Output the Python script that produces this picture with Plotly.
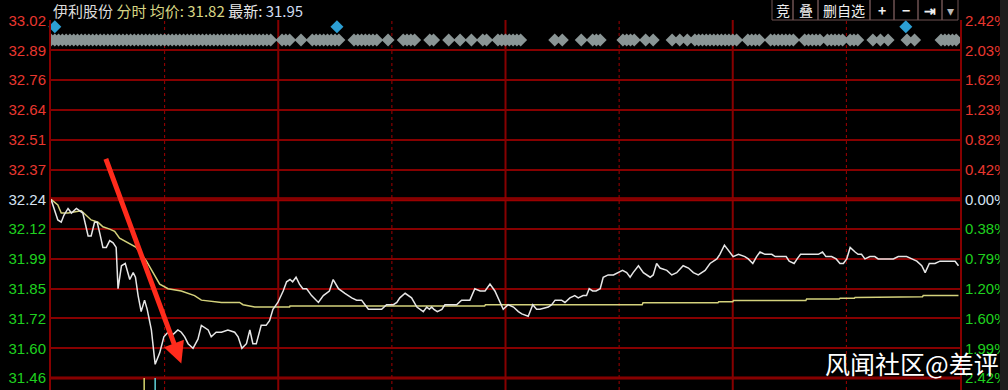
import plotly.graph_objects as go

# ---------------- data ----------------
prev_close = 32.24
price_step = 0.13
price_tick_text = ["33.02", "32.89", "32.76", "32.64", "32.51", "32.37", "32.24",
                   "32.12", "31.99", "31.85", "31.72", "31.60", "31.46"]
pct_tick_text = ["2.42%", "2.03%", "1.62%", "1.23%", "0.82%", "0.42%", "0.00%",
                 "0.38%", "0.79%", "1.20%", "1.60%", "1.99%", "2.42%"]

price_minutes = [0, 1.8, 2.7, 3.4, 4.5, 5.4, 6.7, 7.6, 8.4, 9.8, 10.6, 11.5, 12.2, 12.9, 13.7, 14.6, 15.5,
                 16.4, 17.2, 17.7, 18.6, 19.6, 20.8, 21.7, 22.3, 23.0, 23.8, 24.7, 25.4, 26.5, 27.5, 28.7,
                 29.8, 30.9, 32.2, 33.5, 34.4, 35.3, 36.2, 37.5, 38.8, 39.7, 40.6, 41.5, 42.3, 43.6, 45.0,
                 46.7, 48.5, 49.4, 50.4, 51.6, 52.5, 53.3, 54.2, 55.5, 56.8, 57.7, 58.6, 59.9, 61.3, 62.2,
                 63.1, 63.8, 64.7, 65.6, 66.5, 67.5, 68.8, 70.6, 71.9, 73.5, 74.5, 75.9, 77.6, 79.4, 80.7,
                 82.0, 82.9, 83.8, 85.1, 87.3, 88.6, 90.4, 91.3, 92.1, 93.5, 95.2, 96.6, 97.4, 98.3, 99.2,
                 99.9, 100.5, 101.1, 102.0, 103.2, 104.0, 105.3, 107.1, 108.4, 109.8, 110.6, 111.9, 113.3,
                 114.6, 115.9, 117.2, 118.5, 119.4, 120.7, 122.1, 123.4, 124.3, 126.0, 127.2, 128.2, 129.1,
                 131.3, 132.2, 133.1, 134.8, 135.7, 137.0, 138.3, 139.2, 140.5, 141.4, 142.1, 143.0, 143.9,
                 145.0, 145.8, 147.1, 148.5, 149.8, 150.9, 152.0, 152.9, 153.7, 155.1, 156.4, 158.2, 159.0,
                 159.9, 160.8, 162.6, 163.9, 165.2, 166.9, 168.3, 169.6, 170.9, 172.7, 174.0, 175.8, 176.6,
                 177.8, 178.8, 180.1, 181.5, 183.2, 184.1, 185.3, 186.3, 187.2, 188.5, 189.4, 190.3, 191.2,
                 192.0, 192.9, 194.1, 194.9, 196.2, 197.0, 197.9, 199.1, 200.4, 201.3, 202.6, 203.7, 204.6,
                 206.1, 207.3, 208.3, 209.2, 210.1, 211.0, 212.3, 213.1, 214.0, 214.9, 216.2, 217.5, 218.4,
                 219.7, 221.1, 222.4, 223.7, 225.0, 225.9, 227.3, 228.6, 229.9, 230.8, 231.9, 233.4, 234.7,
                 236.0, 236.9, 238.7, 239.6]
price_values = [32.24, 32.15, 32.14, 32.17, 32.20, 32.18, 32.20, 32.19, 32.18, 32.08, 32.08, 32.14, 32.14,
                32.09, 32.03, 32.03, 32.06, 32.05, 32.03, 31.85, 31.95, 31.96, 31.89, 31.92, 31.90, 31.82,
                31.75, 31.80, 31.76, 31.67, 31.52, 31.57, 31.64, 31.66, 31.65, 31.67, 31.66, 31.64, 31.61,
                31.59, 31.63, 31.69, 31.68, 31.67, 31.64, 31.66, 31.66, 31.67, 31.66, 31.64, 31.59, 31.61,
                31.67, 31.61, 31.61, 31.69, 31.69, 31.71, 31.76, 31.79, 31.84, 31.88, 31.89, 31.88, 31.90,
                31.87, 31.85, 31.85, 31.82, 31.79, 31.82, 31.84, 31.89, 31.85, 31.83, 31.81, 31.80, 31.80,
                31.78, 31.76, 31.76, 31.76, 31.78, 31.78, 31.79, 31.81, 31.83, 31.81, 31.77, 31.76, 31.75,
                31.77, 31.76, 31.77, 31.76, 31.75, 31.76, 31.78, 31.78, 31.78, 31.80, 31.80, 31.80, 31.85,
                31.84, 31.84, 31.87, 31.84, 31.79, 31.76, 31.78, 31.77, 31.75, 31.74, 31.73, 31.78, 31.76,
                31.76, 31.77, 31.78, 31.80, 31.80, 31.79, 31.81, 31.82, 31.81, 31.82, 31.82, 31.85, 31.84,
                31.84, 31.85, 31.90, 31.91, 31.91, 31.92, 31.93, 31.92, 31.90, 31.92, 31.95, 31.92, 31.90,
                31.91, 31.96, 31.94, 31.93, 31.91, 31.92, 31.95, 31.94, 31.92, 31.91, 31.93, 31.96, 31.98,
                32.00, 32.04, 32.02, 31.99, 32.00, 31.99, 31.98, 31.96, 31.99, 32.01, 32.00, 32.00, 32.00,
                31.99, 31.99, 31.99, 31.99, 31.97, 31.96, 31.98, 32.00, 32.00, 32.00, 32.00, 32.00, 32.01,
                31.99, 31.99, 31.98, 31.96, 31.96, 31.98, 32.03, 32.01, 32.00, 32.00, 31.98, 31.99, 31.99,
                31.98, 31.98, 31.98, 31.98, 31.99, 31.99, 31.99, 31.98, 31.97, 31.95, 31.92, 31.96, 31.96,
                31.97, 31.97, 31.97, 31.97, 31.95]

avg_minutes = [0, 1.8, 2.7, 4.5, 8.0, 9.3, 10.6, 12.4, 13.7, 15.5, 16.8, 18.1, 20.3, 22.5, 25.2, 26.9,
               28.7, 30.9, 34.4, 37.9, 39.7, 45.0, 49.8, 50.7, 53.8, 63.0, 63.1, 114.5, 114.7, 156.1,
               156.3, 176.1, 176.3, 180.0, 180.2, 199.3, 199.5, 208.1, 208.3, 212.1, 212.3, 230.1,
               230.3, 239.6]
avg_values = [32.24, 32.215, 32.18, 32.18, 32.19, 32.17, 32.15, 32.14, 32.12, 32.11, 32.10, 32.07, 32.05,
              32.03, 31.97, 31.92, 31.87, 31.85, 31.84, 31.82, 31.80, 31.79, 31.79, 31.78, 31.77, 31.77,
              31.775, 31.775, 31.780, 31.780, 31.789, 31.789, 31.793, 31.793, 31.798, 31.798, 31.805,
              31.805, 31.808, 31.808, 31.812, 31.815, 31.82, 31.82]

flag_ranges = [(0, 58), (61, 63), (66, 66), (69, 76), (80, 86), (89, 89), (93, 96), (100, 101),
               (105, 105), (108, 108), (111, 111), (114, 115), (118, 124), (133, 133), (135, 135),
               (140, 140), (143, 145), (151, 154), (157, 157), (159, 159), (164, 164), (166, 166),
               (168, 168), (170, 181), (184, 187), (190, 196), (199, 203), (205, 209), (211, 213),
               (217, 217), (219, 219), (221, 221), (226, 226), (228, 228), (235, 239)]
flag_level = 32.935
alert_minutes = [1, 75.5, 225.7]
alert_level = 32.993
tick_mark_minutes = [24.6, 27.5]
tick_mark_colors = ["#d6d66e", "#5fd3da"]
session_minutes = [60, 120, 180]
half_hour_minutes = [30, 90, 150, 210]
stock_name = "伊利股份"
avg_latest = "31.82"
last_price = "31.95"
buttons = ["竞", "叠", "删自选", "+", "−", "⇥", "▾"]
button_edges = [772, 793, 818, 870, 894, 918, 942, 958]

# ---------------- layout geometry ----------------
W, H = 1008, 390
L, R, T, B = 51, 48, 20, 0
PW, PH = W - L - R, H - T - B
y_top = 33.0223
y_bot = 31.408


def px_x(px):
    return (px - L) / PW


def px_y(py):
    return (H - B - py) / PH


n_ticks = len(price_tick_text)
tick_vals = [prev_close + (n_ticks // 2 - i) * price_step for i in range(n_ticks)]

RED_T = "#e8372f"
GRN_T = "#1fd01f"
BASE_T = "#d5e2f2"


def colored(texts):
    out = []
    for i, t in enumerate(texts):
        c = RED_T if i < n_ticks // 2 else (BASE_T if i == n_ticks // 2 else GRN_T)
        out.append(f"<span style='color:{c}'>{t}</span>")
    return out


flag_x = [m for a, b in flag_ranges for m in range(a, b + 1)]

fig = go.Figure()

# tick marks at bottom (volume-like flags)
for m, c in zip(tick_mark_minutes, tick_mark_colors):
    fig.add_trace(go.Scatter(x=[m, m], y=[tick_vals[-1], y_bot], mode="lines",
                             line=dict(color=c, width=1.5), hoverinfo="skip", showlegend=False))

fig.add_trace(go.Scatter(x=avg_minutes, y=avg_values, mode="lines",
                         line=dict(color="#d4d27c", width=1.5), hoverinfo="skip", showlegend=False))
fig.add_trace(go.Scatter(x=price_minutes, y=price_values, mode="lines",
                         line=dict(color="#e6e6e6", width=1.5), hoverinfo="skip", showlegend=False))
fig.add_trace(go.Scatter(x=flag_x, y=[flag_level] * len(flag_x), mode="markers",
                         marker=dict(symbol="diamond", size=10, color="#8a9595", line=dict(width=0)),
                         hoverinfo="skip", showlegend=False))
fig.add_trace(go.Scatter(x=alert_minutes, y=[alert_level] * len(alert_minutes), mode="markers",
                         marker=dict(symbol="diamond", size=10, color="#2c9fd4", line=dict(width=0)),
                         cliponaxis=False, hoverinfo="skip", showlegend=False))
# dummy for right axis
fig.add_trace(go.Scatter(x=[0], y=[prev_close], yaxis="y2", mode="markers",
                         marker=dict(opacity=0), hoverinfo="skip", showlegend=False))

GRID = "#860000"
shapes = []
for m in session_minutes:
    shapes.append(dict(type="line", xref="x", yref="paper", x0=m, x1=m, y0=0, y1=1,
                       line=dict(color=GRID, width=2), layer="below"))
for m in half_hour_minutes:
    shapes.append(dict(type="line", xref="x", yref="paper", x0=m, x1=m, y0=0, y1=1,
                       line=dict(color="#a00000", width=1, dash="dot"), layer="below"))
shapes.append(dict(type="line", xref="paper", yref="y", x0=0, x1=1, y0=prev_close, y1=prev_close,
                   line=dict(color="#9a0000", width=4), layer="below"))
shapes.append(dict(type="line", xref="paper", yref="y", x0=0, x1=1, y0=tick_vals[-1], y1=tick_vals[-1],
                   line=dict(color="#8e0000", width=3), layer="below"))
# button boxes
for i in range(len(buttons)):
    shapes.append(dict(type="rect", xref="paper", yref="paper",
                       x0=px_x(button_edges[i]), x1=px_x(button_edges[i + 1]),
                       y0=px_y(20), y1=px_y(-1),
                       line=dict(color="#6e5252", width=1), fillcolor="rgba(0,0,0,0)", layer="above"))
# scrollbar strip on the right
shapes.append(dict(type="rect", xref="paper", yref="paper", x0=px_x(1000), x1=px_x(1010),
                   y0=px_y(392), y1=px_y(-2), line=dict(width=0), fillcolor="#1e1e1e", layer="above"))

annotations = []
header = (f"<span style='color:#dcdcdc'>{stock_name}</span> "
          f"<span style='color:#d8d684'>分时 均价: {avg_latest}</span> "
          f"<span style='color:#e6e6e6'>最新: </span><span style='color:#cfdcf0'>{last_price}</span>")
annotations.append(dict(text=header, xref="paper", yref="paper", x=px_x(51), y=px_y(10.5),
                        xanchor="left", yanchor="middle", showarrow=False,
                        font=dict(family="Noto Sans CJK SC", size=15)))
for i, b in enumerate(buttons):
    c = (button_edges[i] + button_edges[i + 1]) / 2
    col = "#f0f0f0" if b != "▾" else "#bbbbbb"
    annotations.append(dict(text=f"<b>{b}</b>" if b in ("+", "−", "⇥") else b,
                            xref="paper", yref="paper", x=px_x(c), y=px_y(10),
                            xanchor="center", yanchor="middle", showarrow=False,
                            font=dict(family="Noto Sans CJK SC", size=14, color=col)))
annotations.append(dict(text="风闻社区@差评", xref="paper", yref="paper", x=px_x(823), y=px_y(363),
                        xanchor="left", yanchor="middle", showarrow=False,
                        font=dict(family="Noto Sans CJK SC", size=25, color="#ffffff")))
annotations.append(dict(text="", x=34.4, y=31.524, xref="x", yref="y", ax=-76, ay=-206,
                        showarrow=True, arrowcolor="#ff2b1c", arrowwidth=5, arrowhead=2,
                        arrowsize=0.85, standoff=0))

fig.update_layout(
    width=W, height=H, margin=dict(l=L, r=R, t=T, b=B),
    paper_bgcolor="#000000", plot_bgcolor="#000000",
    showlegend=False, shapes=shapes, annotations=annotations,
    xaxis=dict(range=[0, 240], showgrid=False, zeroline=False, showticklabels=False,
               showline=False, fixedrange=True),
    yaxis=dict(range=[y_bot, y_top], tickvals=tick_vals, ticktext=colored(price_tick_text),
               showgrid=True, gridcolor=GRID, gridwidth=2, zeroline=False,
               showline=True, linecolor=GRID, linewidth=2, ticks="",
               tickfont=dict(family="Arial, Liberation Sans", size=15)),
    yaxis2=dict(range=[y_bot, y_top], overlaying="y", side="right", tickvals=tick_vals,
                ticktext=colored(pct_tick_text), showgrid=False, zeroline=False,
                showline=True, linecolor=GRID, linewidth=2, ticks="",
                tickfont=dict(family="Arial, Liberation Sans", size=15)),
)

fig.write_html("out.html")
